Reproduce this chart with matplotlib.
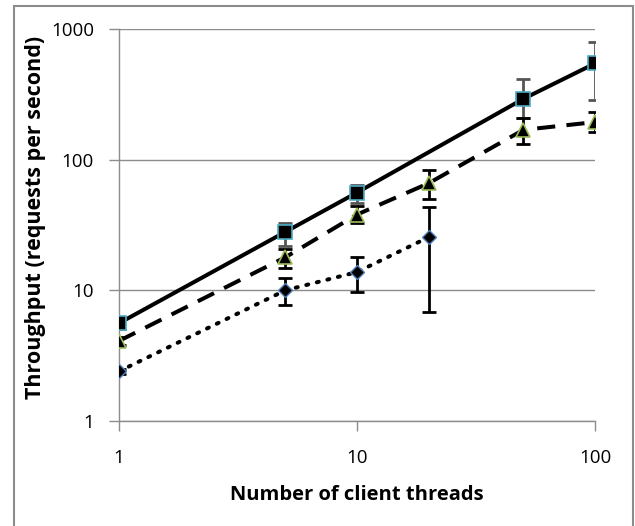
import matplotlib
matplotlib.use("Agg")
import matplotlib.pyplot as plt
from matplotlib.patches import Rectangle

threads_sq = [1, 5, 10, 50, 100]
tput_sq = [5.6, 28, 56, 292, 545]
err_sq_lo = [0.5, 6, 9, 83, 258]
err_sq_hi = [0.5, 5, 8, 122, 250]

threads_tri = [1, 5, 10, 20, 50, 100]
tput_tri = [4.1, 17.9, 38, 66, 169, 194]
err_tri_lo = [0.3, 3, 5.5, 16, 37, 30]
err_tri_hi = [0.3, 3, 6.5, 18, 40, 38]

threads_dia = [1, 5, 10, 20]
tput_dia = [2.4, 10, 13.8, 25.5]
err_dia_lo = [0.1, 2.3, 4.1, 18.7]
err_dia_hi = [0.1, 2.4, 4.1, 18.3]

xticks = [1, 10, 100]
yticks = [1, 10, 100, 1000]

plt.rcParams['font.family'] = ['Open Sans', 'DejaVu Sans']

fig = plt.figure(figsize=(6.35, 5.26), dpi=100)
ax = fig.add_axes([119/635, 1-421/526, (595-119)/635, (421-29)/526])

fig.patches.append(Rectangle((14/635, -0.01), (633-14)/635, 1-6/526+0.01,
                             transform=fig.transFigure, fill=False,
                             edgecolor='#8c8c8c', linewidth=1.5))

lw = 2.9
ax.plot(threads_sq, tput_sq, color='black', lw=lw, ls='-', zorder=3)
ax.plot(threads_tri, tput_tri, color='black', lw=lw, ls=(0, (4.5, 2.8)), zorder=3)
ax.plot(threads_dia, tput_dia, color='black', lw=lw, ls=(0, (0.5, 2.2)),
        dash_capstyle='round', zorder=3)

ax.errorbar(threads_sq, tput_sq, yerr=[err_sq_lo, err_sq_hi], fmt='none',
            ecolor='#555555', elinewidth=2, capsize=5, capthick=2, zorder=4)
ax.errorbar(threads_tri, tput_tri, yerr=[err_tri_lo, err_tri_hi], fmt='none',
            ecolor='black', elinewidth=2, capsize=5, capthick=2, zorder=4)
ax.errorbar(threads_dia, tput_dia, yerr=[err_dia_lo, err_dia_hi], fmt='none',
            ecolor='black', elinewidth=2, capsize=5, capthick=2, zorder=4)

ax.plot(threads_sq, tput_sq, ls='none', marker='s', ms=10.5, mfc='black',
        mec='#4bacc6', mew=1.2, zorder=5)
ax.plot(threads_tri, tput_tri, ls='none', marker='^', ms=10.5, mfc='black',
        mec='#9bbb59', mew=1.2, zorder=5)
ax.plot(threads_dia, tput_dia, ls='none', marker='D', ms=7.5, mfc='black',
        mec='#4f81bd', mew=1.0, zorder=5)

ax.set_xscale('log')
ax.set_yscale('log')
ax.set_xlim(1, 100)
ax.set_ylim(1, 1000)
ax.set_xticks(xticks)
ax.set_xticklabels([str(t) for t in xticks])
ax.set_yticks(yticks)
ax.set_yticklabels([str(t) for t in yticks])
ax.minorticks_off()

ax.grid(axis='y', color='#8c8c8c', lw=1)
ax.set_axisbelow(True)
for s in ['top', 'right']:
    ax.spines[s].set_visible(False)
for s in ['left', 'bottom']:
    ax.spines[s].set_color('#8c8c8c')
    ax.spines[s].set_linewidth(1)
ax.tick_params(axis='both', colors='#8c8c8c', length=7, width=1,
               labelcolor='black', labelsize=13.5)
ax.tick_params(axis='x', pad=13)
ax.tick_params(axis='y', pad=11)

ax.set_xlabel('Number of client threads', fontsize=14.5, fontweight='bold')
ax.set_ylabel('Throughput (requests per second)', fontsize=15.5, fontweight='bold')
ax.xaxis.set_label_coords(0.5, -(495-421)/392, transform=ax.transAxes)
ax.yaxis.set_label_coords(-(119-36)/476, 0.52, transform=ax.transAxes)
ax.xaxis.label.set_va('center')
ax.yaxis.label.set_va('center')

fig.savefig('out.png', dpi=100)
